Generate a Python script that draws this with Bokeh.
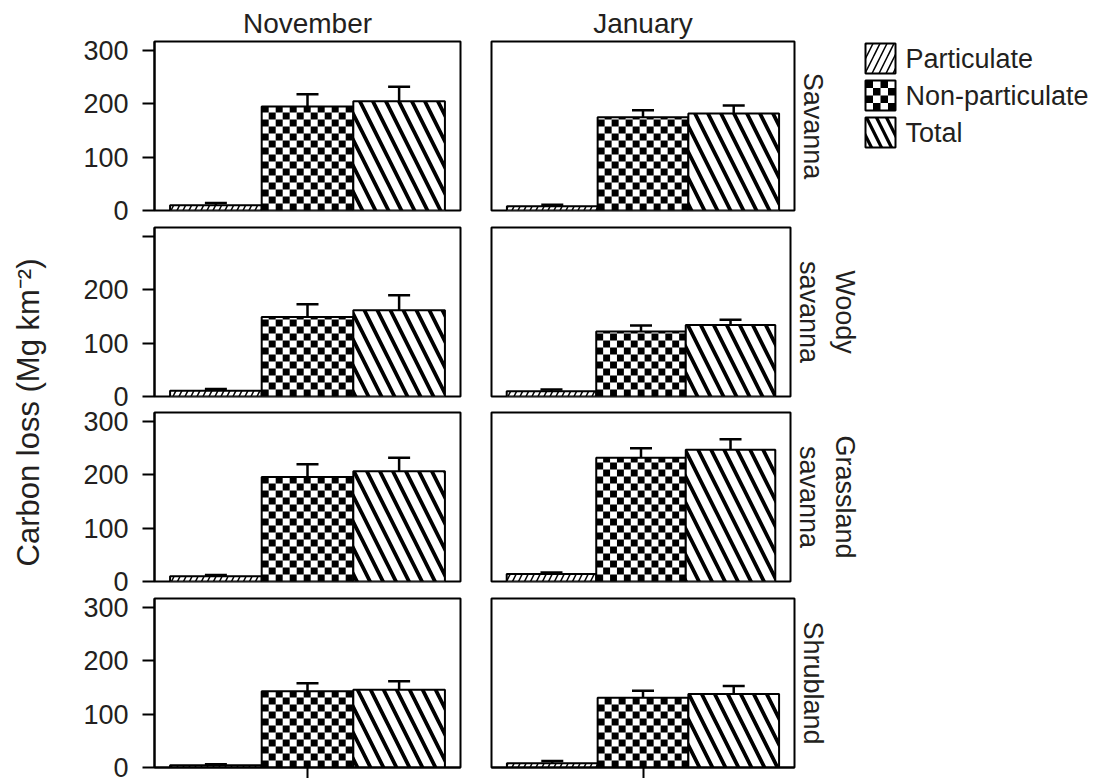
import numpy as np
from bokeh.plotting import figure
from bokeh.models import (Range1d, FixedTicker, LinearAxis, ColumnDataSource, Whisker, TeeHead)
from bokeh.layouts import row, column
from bokeh.embed import file_html
from bokeh.resources import INLINE
from bokeh.core.properties import value

# ---------------- data ----------------
months = ["November", "January"]
habitats = ["Savanna", "Woody\nsavanna", "Grassland\nsavanna", "Shrubland"]
series = ["Particulate", "Non-particulate", "Total"]
y_ticks = [0, 100, 200, 300]
y_label = "Carbon loss (Mg km\u207b\u00b2)"

nov_particulate     = [10, 11, 10, 4]
nov_particulate_err = [4, 3, 2, 2]
nov_nonpart         = [195, 149, 196, 143]
nov_nonpart_err     = [23, 24, 24, 15]
nov_total           = [205, 162, 207, 146]
nov_total_err       = [27, 28, 25, 16]

jan_particulate     = [8, 10, 14, 8]
jan_particulate_err = [3, 3, 3, 4]
jan_nonpart         = [175, 122, 232, 131]
jan_nonpart_err     = [13, 11, 18, 13]
jan_total           = [182, 134, 247, 138]
jan_total_err       = [15, 10, 20, 15]

values = {
    "November": [(nov_particulate, nov_particulate_err), (nov_nonpart, nov_nonpart_err), (nov_total, nov_total_err)],
    "January": [(jan_particulate, jan_particulate_err), (jan_nonpart, jan_nonpart_err), (jan_total, jan_total_err)],
}

# ---------------- style ----------------
INK = "#231f20"
FONT = "Liberation Sans"
Y_MAX = 317
FH = 169
SQ_PX = 7  # checker square size in pixels

hatch_styles = {
    "Particulate": dict(hatch_pattern="right_diagonal_line", hatch_scale=12, hatch_weight=1.5),
    "Total": dict(hatch_pattern="left_diagonal_line", hatch_scale=26, hatch_weight=3.8),
}


def checker_cells(x0, x1, y0, y1, sx, sy):
    """Black cells of a checkerboard covering the rectangle [x0,x1]x[y0,y1]."""
    L, R, B, T = [], [], [], []
    nx = int(np.ceil((x1 - x0) / sx - 1e-9))
    ny = int(np.ceil((y1 - y0) / sy - 1e-9))
    for i in range(nx):
        for j in range(ny):
            if (i + j) % 2 == 0:
                L.append(x0 + i * sx)
                R.append(min(x0 + (i + 1) * sx, x1))
                B.append(y0 + j * sy)
                T.append(min(y0 + (j + 1) * sy, y1))
    return dict(left=L, right=R, bottom=B, top=T)


# rows: (min_border_top, min_border_bottom)
row_borders = [(41, 16), (1, 12), (4, 12), (5, 11)]


def panel(mi, hi):
    left = mi == 0
    first = hi == 0
    last = hi == len(habitats) - 1
    fw = 306 if left else 303
    mbl = 86 if left else 16
    mbr = 15 if left else 68
    mbt, mbb = row_borders[hi]
    x_lo, x_hi = 0.33, 3.67
    p = figure(width=mbl + fw + mbr, height=mbt + FH + mbb,
               x_range=Range1d(x_lo, x_hi), y_range=Range1d(0, Y_MAX),
               output_backend="svg", toolbar_location=None, tools="",
               title=months[mi] if first else None,
               x_axis_location="below" if last else None,
               y_axis_location="left" if left else None,
               min_border_left=mbl, min_border_right=mbr,
               min_border_top=mbt, min_border_bottom=mbb,
               background_fill_color="white", border_fill_color="white",
               outline_line_color="black", outline_line_width=2)
    p.grid.visible = False
    if first:
        p.title.align = "center"
        p.title.text_font = FONT
        p.title.text_font_size = "28px"
        p.title.text_font_style = "normal"
        p.title.text_color = INK
        p.title.standoff = 5

    sx = SQ_PX * (x_hi - x_lo) / fw
    sy = SQ_PX * Y_MAX / FH
    for si, s in enumerate(series):
        v, e = values[months[mi]][si]
        xc = si + 1
        src = ColumnDataSource(dict(x=[xc], top=[v[hi]],
                                    upper=[v[hi] + e[hi]], lower=[v[hi] - e[hi]]))
        if s == "Non-particulate":
            p.vbar(x="x", top="top", bottom=0, width=1, source=src,
                   fill_color="white", line_color=None)
            p.quad(source=ColumnDataSource(checker_cells(xc - 0.5, xc + 0.5, 0, v[hi], sx, sy)),
                   left="left", right="right", bottom="bottom", top="top",
                   fill_color="black", line_color=None)
            p.vbar(x="x", top="top", bottom=0, width=1, source=src,
                   fill_color=None, line_color="black", line_width=2)
        else:
            p.vbar(x="x", top="top", bottom=0, width=1, source=src,
                   fill_color="white", line_color="black", line_width=2,
                   hatch_color="black", **hatch_styles[s])
        w = Whisker(base="x", upper="upper", lower="lower", source=src, dimension="height",
                    line_color="black", line_width=2.5,
                    upper_head=TeeHead(size=22, line_width=2.5, line_color="black"),
                    lower_head=TeeHead(size=22, line_width=2.5, line_color="black"))
        p.add_layout(w)

    if left:
        ax = p.yaxis[0]
        if hi == 1:
            ax.ticker = FixedTicker(ticks=y_ticks[:-1], minor_ticks=y_ticks[-1:])
            ax.minor_tick_line_color = "black"
            ax.minor_tick_line_width = 2
            ax.minor_tick_out = 12
            ax.minor_tick_in = 0
        else:
            ax.ticker = FixedTicker(ticks=y_ticks)
            ax.minor_tick_line_color = None
        ax.axis_line_width = 2
        ax.axis_line_color = "black"
        ax.major_tick_line_width = 2
        ax.major_tick_line_color = "black"
        ax.major_tick_out = 12
        ax.major_tick_in = 0
        ax.major_label_text_font = FONT
        ax.major_label_text_font_size = "27px"
        ax.major_label_text_color = INK
        ax.major_label_standoff = 14
    if last:
        ax = p.xaxis[0]
        ax.ticker = FixedTicker(ticks=[], minor_ticks=[2])
        ax.axis_line_width = 2
        ax.axis_line_color = "black"
        ax.major_tick_line_color = None
        ax.minor_tick_line_width = 2
        ax.minor_tick_line_color = "black"
        ax.minor_tick_out = 11
        ax.minor_tick_in = 0
    if not left:
        sax = LinearAxis(ticker=FixedTicker(ticks=[]), axis_label=habitats[hi],
                         axis_line_color=None, major_tick_line_color=None,
                         minor_tick_line_color=None, major_tick_out=0,
                         axis_label_standoff=3, axis_label_text_font=FONT,
                         axis_label_text_font_size="27px",
                         axis_label_text_font_style="normal",
                         axis_label_text_color=INK)
        p.add_layout(sax, "right")
    return p


panels = [[panel(mi, hi) for hi in range(len(habitats))] for mi in range(len(months))]
grid = column(*[row(panels[0][hi], panels[1][hi]) for hi in range(len(habitats))])

TOTAL_H = sum(t + FH + b for t, b in row_borders)

# ---- y axis title ----
ylab = figure(width=68, height=TOTAL_H, x_range=Range1d(0, 68), y_range=Range1d(TOTAL_H, 0),
              output_backend="svg", toolbar_location=None, tools="",
              x_axis_location=None, y_axis_location=None,
              min_border_left=0, min_border_right=0, min_border_top=0, min_border_bottom=0,
              outline_line_color=None)
ylab.grid.visible = False
ylab.text(x=[28], y=[412], text=[y_label], angle=np.pi / 2,
          text_align="center", text_baseline="middle",
          text_font=value(FONT), text_font_size="31px", text_color=INK)

# ---- legend ----
LEG_W, LEG_H = 249, row_borders[0][0] + FH + row_borders[0][1]
leg = figure(width=LEG_W, height=LEG_H, x_range=Range1d(0, LEG_W), y_range=Range1d(LEG_H, 0),
             output_backend="svg", toolbar_location=None, tools="",
             x_axis_location=None, y_axis_location=None,
             min_border_left=0, min_border_right=0, min_border_top=0, min_border_bottom=0,
             outline_line_color=None)
leg.grid.visible = False
BOX, PITCH, BX, BY = 30, 37, 3, 43
for i, s in enumerate(series):
    top = BY + i * PITCH
    src = ColumnDataSource(dict(left=[BX], right=[BX + BOX], top=[top], bottom=[top + BOX]))
    if s == "Non-particulate":
        leg.quad(left="left", right="right", top="top", bottom="bottom", source=src,
                 fill_color="white", line_color=None)
        leg.quad(source=ColumnDataSource(checker_cells(BX, BX + BOX, top, top + BOX, 7.5, 7.5)),
                 left="left", right="right", bottom="bottom", top="top",
                 fill_color="black", line_color=None)
        leg.quad(left="left", right="right", top="top", bottom="bottom", source=src,
                 fill_color=None, line_color="black", line_width=2)
    else:
        sty = dict(hatch_styles[s])
        if s == "Particulate":
            sty["hatch_scale"] = 14
        else:
            sty["hatch_scale"] = 20
            sty["hatch_weight"] = 3.2
        leg.quad(left="left", right="right", top="top", bottom="bottom", source=src,
                 fill_color="white", line_color="black", line_width=2,
                 hatch_color="black", **sty)
    leg.text(x=[BX + BOX + 10], y=[top + BOX / 2], text=[s], text_baseline="middle",
             text_align="left", text_font=value(FONT), text_font_size="27px", text_color=INK)

layout = row(ylab, grid, leg)
open("out.html", "w").write(file_html(layout, INLINE))
